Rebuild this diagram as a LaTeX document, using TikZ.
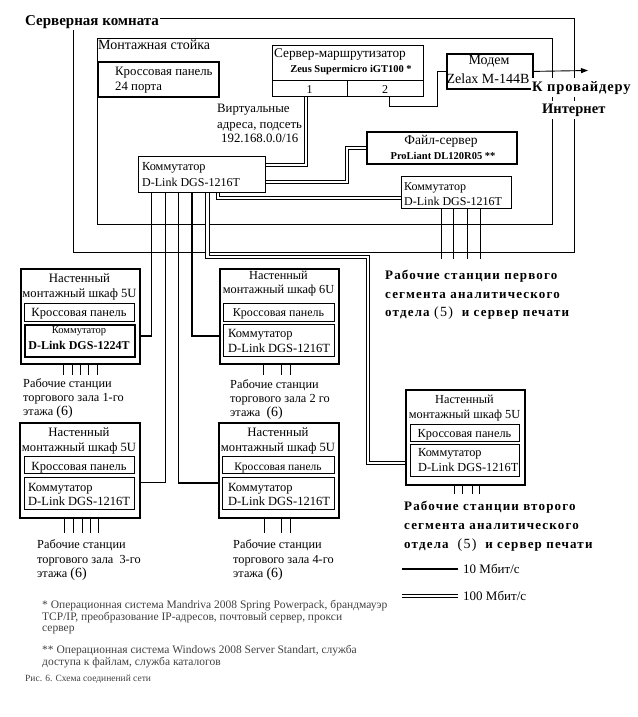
\documentclass[tikz,border=0pt]{standalone}
\usepackage{fontspec}
\setmainfont{Liberation Serif}
\usetikzlibrary{arrows.meta,calc}
\newcommand\fsz[1]{\fontsize{#1}{#1}\selectfont}
\begin{document}
\begin{tikzpicture}[x=1pt,y=-1pt,
  box/.style={draw, line width=1pt, inner sep=0pt, anchor=north west},
  tbox/.style={box, line width=1.8pt},
  cbox/.style={box, line width=1.5pt},
  L/.style={inner sep=0pt, anchor=base west},
  C/.style={inner sep=0pt, anchor=base},
  w10/.style={line width=1.8pt},
  wthin/.style={line width=0.9pt},
  w100/.style={double, double distance=2pt, line width=0.8pt},
  frame/.style={line width=0.9pt},
  ws/.style={line width=0.9pt},
  bws/.style={L, font=\fsz{13}\bfseries\addfontfeature{LetterSpace=9}},
  foot/.style={L, text=black!75, font=\fsz{11.5}}
]
\useasboundingbox (0,0) rectangle (637,717);

% ---------- server room and rack ----------
\node[L, font=\fsz{15}\bfseries] (title) at (25,26) {Серверная комната};
\draw[frame] ([xshift=1pt]title.east |- 0,18) -- (574,18) -- (574,252) -- (73,252) -- (73,30);
\node[box, line width=0.9pt, minimum width=455pt, minimum height=186pt] (rack) at (97,38) {};
\node[L, font=\fsz{14}] (racklbl) at (98,49) {Монтажная стойка};

% ---------- boxes in the rack ----------
\node[tbox, minimum width=121pt, minimum height=35pt] (kp24) at (97,61) {};
\node[L, font=\fsz{12.8}] (kp24a) at (115,75) {Кроссовая панель};
\node[L, font=\fsz{12.8}] (kp24b) at (115,90) {24 порта};

\node[box, line width=1.3pt, minimum width=151pt, minimum height=51pt] (router) at (272,45) {};
\node[box, line width=1.3pt, minimum width=75pt, minimum height=16pt] (port1) at (272,80) {};
\node[box, line width=1.3pt, minimum width=76pt, minimum height=16pt] (port2) at (347,80) {};
\node[C, font=\fsz{13.3}] (routera) at (340,58) {Сервер-маршрутизатор};
\node[C, font=\fsz{10.5}\bfseries] (routerb) at (351,73) {Zeus Supermicro iGT100 *};
\node[C, font=\fsz{12}] (p1lbl) at (309.5,93) {1};
\node[C, font=\fsz{12}] (p2lbl) at (385,93) {2};

\node[tbox, minimum width=86pt, minimum height=35pt] (modem) at (446,53) {};
\node[C, font=\fsz{14}] (modema) at (489,65) {Модем};
\node[C, font=\fsz{14}] (modemb) at (488,84) {Zelax M-144B};

\node[box, line width=1.3pt, minimum width=127pt, minimum height=36pt] (sw) at (138,156) {};
\node[L, font=\fsz{12.3}] (swa) at (142,170) {Коммутатор};
\node[L, font=\fsz{12}] (swb) at (142,186) {D-Link DGS-1216T};

\node[tbox, minimum width=150pt, minimum height=32pt] (fs) at (366,131) {};
\node[C, font=\fsz{13.5}] (fsa) at (441,144) {Файл-сервер};
\node[C, font=\fsz{10.5}\bfseries] (fsb) at (443,159) {ProLiant DL120R05 **};

\node[box, line width=1.3pt, minimum width=110pt, minimum height=32pt] (sw2) at (401,176) {};
\node[L, font=\fsz{12}] (sw2a) at (404,190) {Коммутатор};
\node[L, font=\fsz{12}] (sw2b) at (404,205) {D-Link DGS-1216T};

\node[L, font=\fsz{12.8}] (va) at (217,112) {Виртуальные};
\node[L, font=\fsz{12.8}] (vb) at (217,128) {адреса, подсеть};
\node[L, font=\fsz{12.8}] (vc) at (221,142) {192.168.0.0/16};

% ---------- wall cabinets ----------
\node[cbox, minimum width=119pt, minimum height=95pt] (cab1) at (20,268) {};
\node[box, minimum width=110pt, minimum height=18pt] (kp1) at (24,303) {};
\node[cbox, minimum width=110pt, minimum height=32pt] (s1) at (24,324) {};
\node[C, font=\fsz{12.8}] (c1a) at (79.5,282) {Настенный};
\node[C, font=\fsz{12.6}] (c1b) at (79.5,297) {монтажный шкаф 5U};
\node[C, font=\fsz{12.5}] (c1c) at (79,316) {Кроссовая панель};
\node[C, font=\fsz{10.5}] (c1d) at (79,333) {Коммутатор};
\node[C, font=\fsz{12}\bfseries] (c1e) at (79,349) {D-Link DGS-1224T};

\node[cbox, minimum width=119pt, minimum height=95pt] (cab2) at (219,268) {};
\node[box, minimum width=111pt, minimum height=18pt] (kp2) at (223,303) {};
\node[box, minimum width=111pt, minimum height=32pt] (s2) at (223,324) {};
\node[C, font=\fsz{12.3}] (c2a) at (278.5,279) {Настенный};
\node[C, font=\fsz{12.3}] (c2b) at (278.5,293) {монтажный шкаф 6U};
\node[C, font=\fsz{12}] (c2c) at (278.5,316) {Кроссовая панель};
\node[L, font=\fsz{12.5}] (c2d) at (228,337) {Коммутатор};
\node[L, font=\fsz{12.5}] (c2e) at (228,352) {D-Link DGS-1216T};

\node[cbox, minimum width=120pt, minimum height=95pt] (cab3) at (19,422) {};
\node[box, minimum width=110pt, minimum height=17pt] (kp3) at (24,456) {};
\node[box, minimum width=110pt, minimum height=32pt] (s3) at (24,477) {};
\node[C, font=\fsz{12.8}] (c3a) at (79,436) {Настенный};
\node[C, font=\fsz{12.6}] (c3b) at (79,451) {монтажный шкаф 5U};
\node[C, font=\fsz{12.5}] (c3c) at (79,470) {Кроссовая панель};
\node[L, font=\fsz{12.5}] (c3d) at (28,491) {Коммутатор};
\node[L, font=\fsz{12.5}] (c3e) at (28,505) {D-Link DGS-1216T};

\node[cbox, minimum width=120pt, minimum height=95pt] (cab4) at (218,422) {};
\node[box, minimum width=112pt, minimum height=17pt] (kp4) at (222,456) {};
\node[box, minimum width=112pt, minimum height=32pt] (s4) at (222,477) {};
\node[C, font=\fsz{12.8}] (c4a) at (278,436) {Настенный};
\node[C, font=\fsz{12.6}] (c4b) at (278,451) {монтажный шкаф 5U};
\node[C, font=\fsz{11.5}] (c4c) at (278,470) {Кроссовая панель};
\node[L, font=\fsz{12.5}] (c4d) at (228,491) {Коммутатор};
\node[L, font=\fsz{12.5}] (c4e) at (228,505) {D-Link DGS-1216T};

\node[cbox, minimum width=119pt, minimum height=95pt] (cab5) at (405,389) {};
\node[box, minimum width=109pt, minimum height=17pt] (kp5) at (410,424) {};
\node[box, minimum width=109pt, minimum height=32pt] (s5) at (410,444) {};
\node[C, font=\fsz{12.3}] (c5a) at (464.5,403) {Настенный};
\node[C, font=\fsz{12.3}] (c5b) at (464.5,418) {монтажный шкаф 5U};
\node[C, font=\fsz{12.3}] (c5c) at (464.5,437) {Кроссовая панель};
\node[L, font=\fsz{12.3}] (c5d) at (418,456) {Коммутатор};
\node[L, font=\fsz{12.3}] (c5e) at (418,471) {D-Link DGS-1216T};

% ---------- workstation labels ----------
\node[L, font=\fsz{12.3}] (w1a) at (23,387) {Рабочие станции};
\node[L, font=\fsz{12.3}] (w1b) at (23,401) {торгового зала 1-го};
\node[L, font=\fsz{12.3}] (w1c) at (23,415) {этажа {\fsz{14}(6)}};
\node[L, font=\fsz{12.3}] (w2a) at (230,388) {Рабочие станции};
\node[L, font=\fsz{12.3}] (w2b) at (230,402) {торгового зала 2 го};
\node[L, font=\fsz{12.3}] (w2c) at (230,416) {этажа \ {\fsz{14}(6)}};
\node[L, font=\fsz{12.3}] (w3a) at (37,548) {Рабочие станции};
\node[L, font=\fsz{12.3}] (w3b) at (37,563) {торгового зала \ 3-го};
\node[L, font=\fsz{12.3}] (w3c) at (37,577) {этажа {\fsz{14}(6)}};
\node[L, font=\fsz{12.3}] (w4a) at (233,548) {Рабочие станции};
\node[L, font=\fsz{12.3}] (w4b) at (233,563) {торгового зала 4-го};
\node[L, font=\fsz{12.3}] (w4c) at (233,577) {этажа {\fsz{14}(6)}};

\node[bws] (g1a) at (385,279) {Рабочие станции первого};
\node[bws] (g1b) at (385,298) {сегмента аналитического};
\node[bws] (g1c) at (385,316) {отдела {\mdseries\fsz{14}(5)}\ \ и сервер печати};
\node[bws] (g2a) at (404,510) {Рабочие станции второго};
\node[bws] (g2b) at (404,529) {сегмента аналитического};
\node[bws] (g2c) at (404,548) {отдела \ {\mdseries\fsz{14}(5)}\ \ и сервер печати};

% ---------- connectors ----------
\draw[w100] ([xshift=-4pt]port1.south) |- (sw.east |- 0,165);
\draw[wthin] ([xshift=4pt]port2.south) -- ++(0,9) -| ($(modem.west)+(-9,0)$) -- (modem.west);
\coordinate (isp) at (588,70.5);
\draw[wthin, -{Triangle[length=7pt,width=5pt]}] (modem.east) -- (isp);
\draw[w100] (sw.east |- 0,182) -| (347,148) -- (fs.west |- 0,148);
\draw[w100] ([xshift=80pt]sw.south west) |- (sw2.west |- 0,198);
\foreach \dx in {40,52,66,79} \draw[ws] ([xshift=\dx pt]sw2.south west) -- ++(0,50);

\draw[w10] ([xshift=13.5pt]sw.south west) |- (cab1.east |- 0,336);
\draw[wthin] ([xshift=27.5pt]sw.south west) |- (cab3.east |- 0,482);
\draw[w10] ([xshift=40.5pt]sw.south west) |- (cab4.west |- 0,483);
\draw[w10] ([xshift=54pt]sw.south west) |- (cab2.west |- 0,336);
\coordinate (bend5) at (368,257);
\draw[w100, double distance=2.8pt] ([xshift=69.5pt]sw.south west) |- (bend5) |- (cab5.west |- 0,463);

\foreach \dx in {43,52,60,68,77} \draw[ws] ([xshift=\dx pt]cab1.south west) -- ++(0,10);
\foreach \dx in {44,62,71} \draw[ws] ([xshift=\dx pt]cab2.south west) -- ++(0,10);
\foreach \dx in {45,54,63,71,79} \draw[ws] ([xshift=\dx pt]cab3.south west) -- ++(0,14);
\foreach \dx in {46,63,72} \draw[ws] ([xshift=\dx pt]cab4.south west) -- ++(0,14);
\foreach \dx in {49,57,67,74} \draw[ws] ([xshift=\dx pt]cab5.south west) -- ++(0,8);

% ---------- ISP label (over the frame lines) ----------
\node[L, font=\fsz{14.5}\bfseries\addfontfeature{LetterSpace=6}, fill=white, inner xsep=1pt, inner ysep=3pt] (ispa) at (531,91) {К провайдеру};
\node[L, font=\fsz{14.5}\bfseries, fill=white, inner xsep=1pt, inner ysep=3pt] (ispb) at (541,113) {Интернет};

% ---------- legend ----------
\node[L, font=\fsz{13}] (l10) at (463,573) {10 Мбит/с};
\node[L, font=\fsz{13}] (l100) at (463,600) {100 Мбит/с};
\draw[w10] ([xshift=-5pt,yshift=4pt]l10.base west) -- ++(-56,0);
\draw[w100] ([xshift=-5pt,yshift=4pt]l100.base west) -- ++(-56,0);

% ---------- footnotes ----------
\node[foot] (n1a) at (42,608) {* Операционная система Mandriva 2008 Spring Powerpack, брандмауэр};
\node[foot] (n1b) at (42,620) {TCP/IP, преобразование IP-адресов, почтовый сервер, прокси};
\node[foot] (n1c) at (42,631) {сервер};
\node[foot] (n2a) at (42,653) {** Операционная система Windows 2008 Server Standart, служба};
\node[foot] (n2b) at (42,665) {доступа к файлам, служба каталогов};
\node[foot, font=\fsz{9.5}] (cap) at (25,681) {Рис. 6. Схема соединений сети};
\end{tikzpicture}
\end{document}
